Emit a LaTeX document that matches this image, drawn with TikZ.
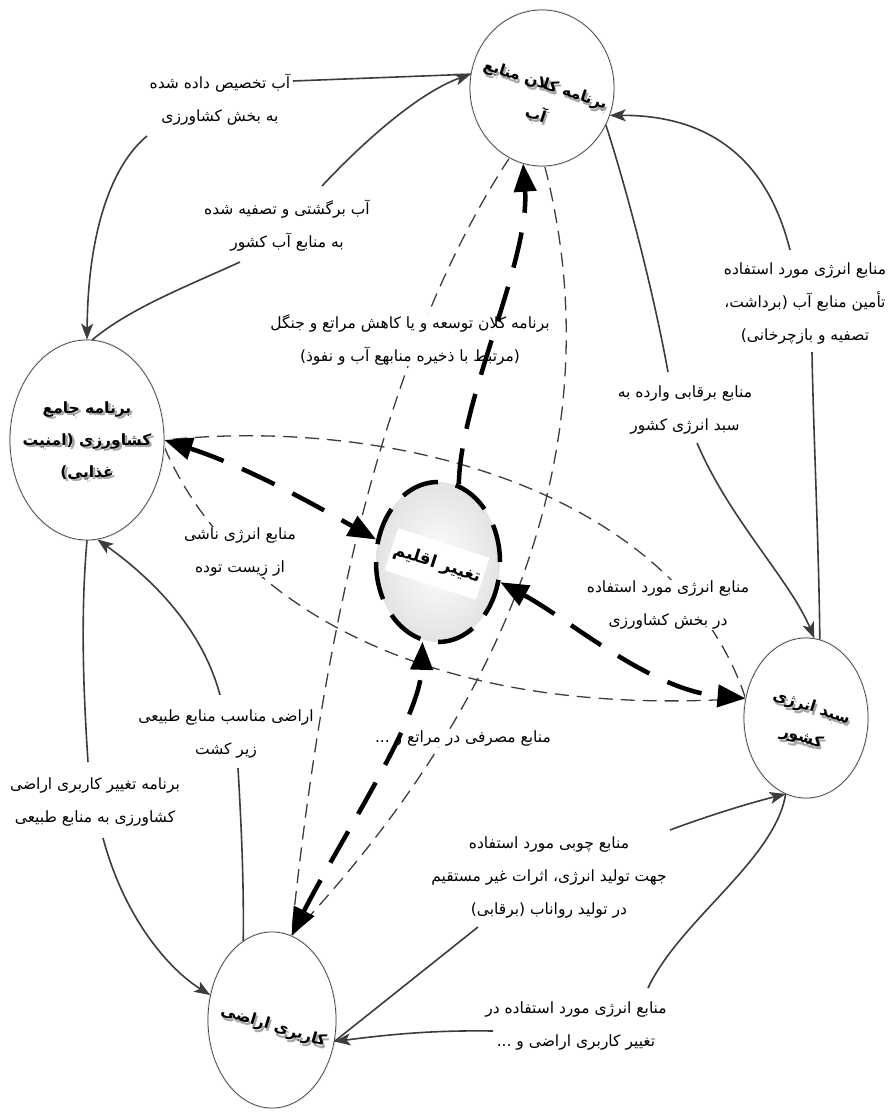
\documentclass[tikz,border=0pt]{standalone}
\usepackage{fontspec}
\usetikzlibrary{shapes.geometric,arrows.meta}
\TeXXeTstate=1
\newfontfamily\fa[Script=Arabic]{DejaVu Sans}
\newcommand{\fatext}[1]{\beginR #1\endR}
\newcommand{\shline}[1]{\leavevmode\rlap{\kern2.5pt\raisebox{-2.5pt}{\color{black!35}\beginR #1\endR}}\beginR #1\endR}
\pgfdeclarelayer{bg}
\pgfsetlayers{bg,main}
\definecolor{lc}{HTML}{3C3C3C}
\tikzset{
 ell/.style={ellipse, draw=black!75, line width=0.7pt, fill=white, inner sep=0pt, preaction={draw=black!12, line width=2.4pt}},
 ntext/.style={font=\fa\bfseries\fontsize{15.5}{32}\selectfont, align=center, inner sep=0pt},
 lbl/.style={font=\fa\fontsize{15.5}{33}\selectfont, align=center, inner sep=1pt},
 mask/.style={fill=white},
 sol/.style={draw=lc, line width=1.6pt},
 solar/.style={sol, -{Stealth[length=16pt,width=12pt,inset=4pt]}},
 thn/.style={draw=lc, line width=1.3pt, dash pattern=on 14pt off 8pt},
 thk/.style={draw=black, line width=4.5pt, dash pattern=on 36pt off 20pt},
 bigtips/.style={{Triangle[length=28pt,width=22pt]}-{Triangle[length=28pt,width=22pt]}},
 bigtip/.style={-{Triangle[length=28pt,width=22pt]}},
}
\begin{document}
\begin{tikzpicture}[x=1pt,y=-1pt]
\useasboundingbox (0,0) rectangle (891,1113);
% main nodes
\node[ell, minimum width=144pt, minimum height=156pt] (water) at (542,88) {};
\node[ell, minimum width=154pt, minimum height=200pt] (agri) at (87,440) {};
\node[ell, minimum width=124pt, minimum height=160pt] (energy) at (806,718) {};
\node[ell, minimum width=128pt, minimum height=176pt] (land) at (272,1020) {};
\node[ellipse, minimum width=124pt, minimum height=160pt, inner sep=0pt, draw=black, line width=4.5pt, dash pattern=on 38pt off 18pt, inner color=white, outer color=black!11] (climate) at (438,562) {};
% node texts
\node[ntext, rotate=-18] (watert) at (540,101) {\shline{برنامه کلان منابع}\\\shline{آب}};
\node[ntext] (agrit) at (87,442) {\shline{برنامه جامع}\\\shline{کشاورزی (امنیت}\\\shline{غذایی)}};
\node[ntext, rotate=-18] (energyt) at (806,724) {\shline{سبد انرژی}\\\shline{کشور}};
\node[ntext, rotate=-17] (landt) at (273,1028) {\shline{کاربری اراضی}};
\node[ntext, rotate=-18, fill=white, minimum width=96pt, minimum height=44pt, font=\fa\bfseries\fontsize{17}{20}\selectfont] (climatet) at (437,564) {\fatext{تغییر اقلیم}};
% thin dashed connectors
\begin{pgfonlayer}{bg}
\draw[thn] (water.-115) .. controls (390,340) and (325,610) .. (land.77);
\draw[thn] (water.-88) .. controls (600,380) and (560,650) .. (land.77);
\draw[thn] (energy.162) .. controls (680,500) and (410,415) .. (agri.0);
\draw[thn] (agri.-5) .. controls (230,600) and (420,720) .. (energy.162);
\end{pgfonlayer}
% labels
\node[lbl] (L1) at (220,100) {\fatext{آب تخصیص داده شده}\\\fatext{به بخش کشاورزی}};
\node[lbl] (L2) at (287,226) {\fatext{آب برگشتی و تصفیه شده}\\\fatext{به منابع آب کشور}};
\node[lbl, mask] (L3) at (410,340) {\fatext{برنامه کلان توسعه و یا کاهش مراتع و جنگل}\\\fatext{(مرتبط با ذخیره منابهع آب و نفوذ)}};
\node[lbl] (L4) at (805,304) {\fatext{منابع انرژی مورد استفاده}\\\fatext{تأمین منابع آب (برداشت،}\\\fatext{تصفیه و بازچرخانی)}};
\node[lbl] (L5) at (685,410) {\fatext{منابع برقابی وارده به}\\\fatext{سبد انرژی کشور}};
\node[lbl, mask] (L6) at (240,552) {\fatext{منابع انرژی ناشی}\\\fatext{از زیست توده}};
\node[lbl, mask] (L7) at (668,605) {\fatext{منابع انرژی مورد استفاده}\\\fatext{در بخش کشاورزی}};
\node[lbl, mask] (L8) at (463,738) {\fatext{منابع مصرفی در مراتع و ...}};
\node[lbl] (L9) at (226,734) {\fatext{اراضی مناسب منابع طبیعی}\\\fatext{زیر کشت}};
\node[lbl] (L10) at (95,802) {\fatext{برنامه تغییر کاربری اراضی}\\\fatext{کشاورزی به منابع طبیعی}};
\node[lbl] (L11) at (549,877) {\fatext{منابع چوبی مورد استفاده}\\\fatext{جهت تولید انرژی، اثرات غیر مستقیم}\\\fatext{در تولید رواناب (برقابی)}};
\node[lbl] (L12) at (576,1026) {\fatext{منابع انرژی مورد استفاده در}\\\fatext{تغییر کاربری اراضی و ...}};
% thick dashed connectors
\draw[thk, bigtips] (agri.0) .. controls (250,468) and (320,508) .. (climate.160);
\draw[thk, bigtips] (climate.-18) .. controls (570,620) and (650,690) .. (energy.162);
\draw[thk, bigtip] (climate.75) .. controls (460,400) and (530,260) .. (water.-104);
\draw[thk, bigtips] (land.77) .. controls (340,840) and (420,720) .. (climate.-101);
% break points of solid connectors
\coordinate (s1a) at (293,81);  \coordinate (s1b) at (147,136);
\coordinate (s2a) at (240,262); \coordinate (s2b) at (322,186);
\coordinate (s3a) at (812,352); \coordinate (s3b) at (790,250);
\coordinate (s4a) at (668,372); \coordinate (s4b) at (697,443);
\coordinate (s5a) at (88,762);  \coordinate (s5b) at (103,838);
\coordinate (s6a) at (220,695); \coordinate (s6b) at (238,768);
\coordinate (s7a) at (478,927); \coordinate (s7b) at (670,830);
\coordinate (s8a) at (648,988); \coordinate (s8b) at (493,1031);
% solid connectors
\draw[sol] (water.169) -- (s1a);
\draw[solar] (s1b) .. controls (112,165) and (88,230) .. (agri.90);
\draw[sol] (agri.87) .. controls (130,308) and (190,285) .. (s2a);
\draw[solar] (s2b) .. controls (365,140) and (420,92) .. (water.169);
\draw[sol] (energy.80) .. controls (819,550) and (813,420) .. (s3a);
\draw[solar] (s3b) .. controls (765,150) and (700,115) .. (water.-22);
\draw[sol] (water.-30) .. controls (630,200) and (655,300) .. (s4a);
\draw[solar] (s4b) .. controls (730,520) and (790,580) .. (energy.84);
\draw[sol] (agri.-90) .. controls (80,620) and (84,700) .. (s5a);
\draw[solar] (s5b) .. controls (125,920) and (170,970) .. (land.158);
\draw[solar] (s6a) .. controls (200,620) and (140,570) .. (agri.-84);
\draw[sol] (land.110) .. controls (244,880) and (241,820) .. (s6b);
\draw[sol] (land.-19) -- (s7a);
\draw[solar] (s7b) .. controls (710,815) and (750,803) .. (energy.-105);
\draw[sol] (energy.-105) .. controls (775,860) and (680,920) .. (s8a);
\draw[solar] (s8b) .. controls (430,1030) and (385,1035) .. (land.-19);
\end{tikzpicture}
\end{document}
